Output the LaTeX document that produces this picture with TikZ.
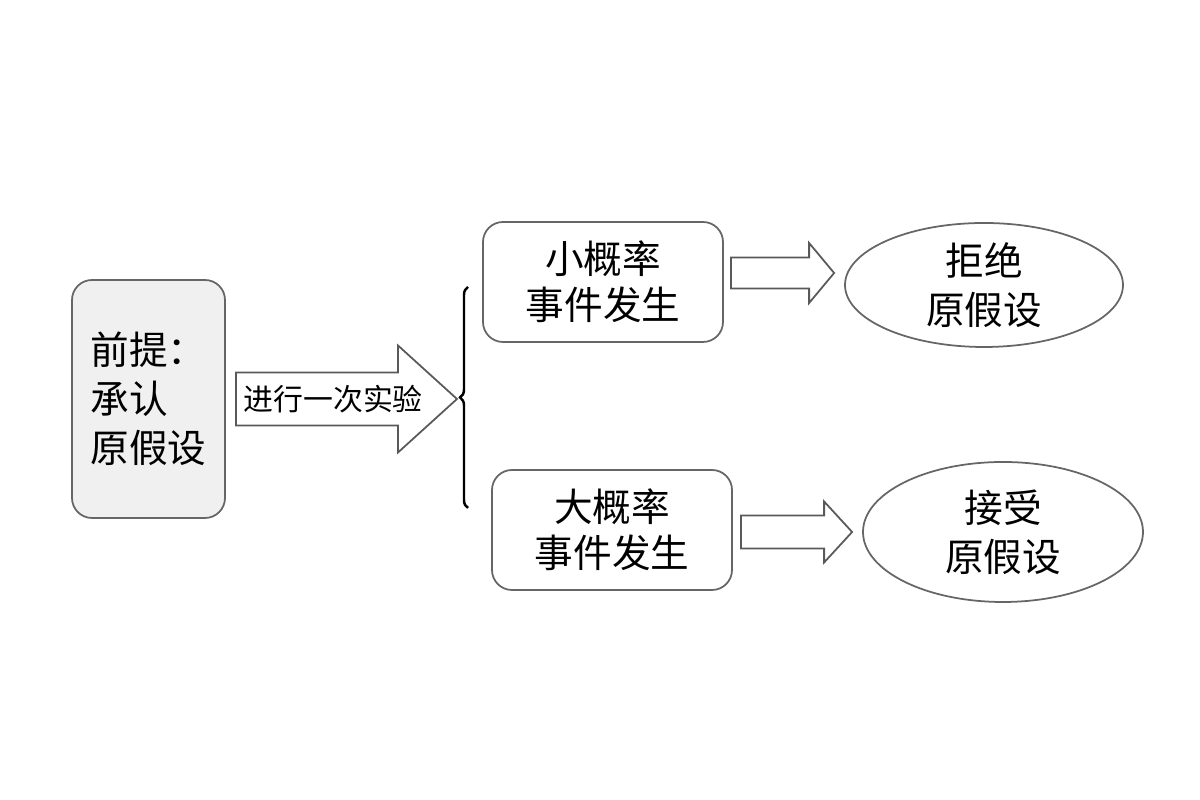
\documentclass[tikz,border=0pt]{standalone}
\usepackage{fontspec}
\setmainfont{Noto Sans CJK SC}
\usetikzlibrary{shapes.geometric, calc, decorations.pathreplacing}
\tikzstyle{rbox} = [draw=black!60, line width=0.5pt, rounded corners=0.2cm, align=center, inner sep=0pt, font=\fontsize{11}{13}\selectfont]
\tikzstyle{ell} = [draw=black!60, line width=0.5pt, ellipse, align=center, inner sep=0pt, font=\fontsize{11}{14}\selectfont]
\tikzstyle{fat} = [draw=black!65, line width=0.5pt, fill=white, line join=miter]
\tikzstyle{brc} = [decorate, decoration={brace, amplitude=0.08cm}, line width=0.7pt]
% block arrow: tail, tip, half body, half head, head length
\newcommand{\fatarrow}[5]{%
  \draw[fat] ($(#1)+(0,#3)$) -- ($(#2)+(-#5,#3)$) -- ($(#2)+(-#5,#4)$) -- (#2)
    -- ($(#2)+(-#5,-#4)$) -- ($(#2)+(-#5,-#3)$) -- ($(#1)+(0,-#3)$) -- cycle;}

\begin{document}
\begin{tikzpicture}
        \useasboundingbox (0,0) rectangle (12,8);
        % boxes
        \node[rbox, fill=black!6, minimum width=1.53cm, minimum height=2.38cm, align=left,
              font=\fontsize{11}{14}\selectfont] (prem) at (1.485,4.01) {前提：\\承认\\原假设};
        \node[rbox, minimum width=2.40cm, minimum height=1.20cm] (small) at (6.03,5.18) {小概率\\事件发生};
        \node[rbox, minimum width=2.40cm, minimum height=1.20cm] (large) at (6.12,2.70) {大概率\\事件发生};
        \node[ell, minimum width=2.78cm, minimum height=1.24cm] (reject) at (9.84,5.15) {拒绝\\原假设};
        \node[ell, minimum width=2.80cm, minimum height=1.40cm] (accept) at (10.03,2.68) {接受\\原假设};
        % big arrow
        \coordinate (t0) at ([xshift=0.1cm]prem.east);
        \coordinate (fork) at (4.57,4.01);
        \fatarrow{t0}{fork}{0.265}{0.535}{0.59}
        \node[font=\fontsize{8.5}{10}\selectfont, inner sep=0pt] (exp) at ($(t0)!0.44!(fork)$) {进行一次实验};
        % brace
        \draw[brc] (4.68,2.92) -- (4.68,5.13);
        % small arrows
        \coordinate (t1) at ([shift={(0.07,0.09)}]small.east);
        \coordinate (h1) at ($(t1 -| reject.west)+(-0.1,0)$);
        \fatarrow{t1}{h1}{0.155}{0.30}{0.25}
        \coordinate (t2) at ([shift={(0.08,-0.02)}]large.east);
        \coordinate (h2) at ($(t2 -| accept.west)+(-0.1,0)$);
        \fatarrow{t2}{h2}{0.165}{0.305}{0.28}
    \end{tikzpicture}
\end{document}
